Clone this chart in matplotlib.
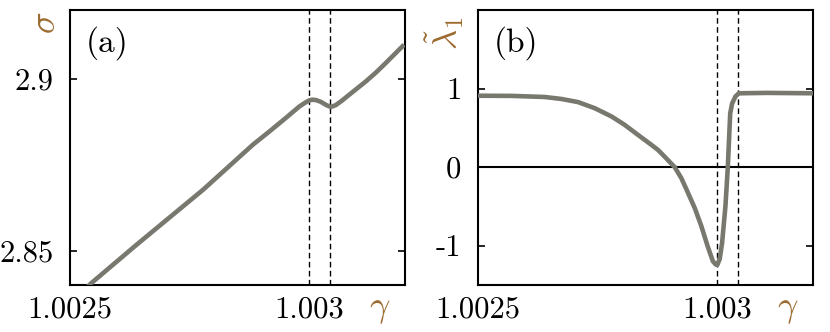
import numpy as np
import matplotlib
matplotlib.use("Agg")
import matplotlib.pyplot as plt

plt.rcParams['font.family'] = 'serif'
plt.rcParams['font.serif'] = ['cmr10', 'DejaVu Serif']
plt.rcParams['mathtext.fontset'] = 'cm'
plt.rcParams['axes.unicode_minus'] = False

# panel (a): sigma vs gamma
gamma_a = [1.00253, 1.002545, 1.002639, 1.002778, 1.002882, 1.002917, 1.002951,
           1.002979, 1.002992, 1.003, 1.003006, 1.003014, 1.003024, 1.003036,
           1.003045, 1.003055, 1.003068, 1.003083, 1.003100, 1.003118,
           1.003140, 1.00316, 1.003198]
sigma_a = [2.8385, 2.8406, 2.8517, 2.8677, 2.8808, 2.8847, 2.8886,
           2.8919, 2.8931, 2.8937, 2.8939, 2.8938, 2.8933, 2.8923,
           2.8918, 2.8923, 2.8936, 2.8953, 2.8972, 2.8992,
           2.9019, 2.9046, 2.9099]

# panel (b): lambda_1 tilde vs gamma
gamma_b = [1.0025, 1.00257, 1.002639, 1.002674, 1.002709, 1.002744, 1.002779,
           1.002806, 1.002834, 1.002862, 1.002876, 1.002889, 1.0029, 1.002911,
           1.002925, 1.002939, 1.002953, 1.002967, 1.00298, 1.002991,
           1.002997, 1.003, 1.003005, 1.00301, 1.003017, 1.003022, 1.003027,
           1.003031, 1.003038, 1.003045, 1.003104, 1.0032]
lam_b = [0.909, 0.907, 0.893, 0.868, 0.828, 0.750, 0.645,
         0.540, 0.412, 0.285, 0.220, 0.140, 0.07, 0.0,
         -0.141, -0.33, -0.522, -0.756, -1.01, -1.20,
         -1.24, -1.245, -1.17, -0.967, -0.50, 0.0, 0.685,
         0.81, 0.90, 0.94, 0.945, 0.94]

gamma_marks = [1.003, 1.003044]
xticks = [1.0025, 1.003]
xticklabels = ['1.0025', '1.003']
yticks_a = [2.85, 2.9]
yticklabels_a = ['2.85', '2.9']
yticks_b = [-1, 0, 1]
yticklabels_b = ['-1', '0', '1']

line_col = '#78786f'
lab_col = '#9b6b2f'

fig = plt.figure(figsize=(8.3, 3.32), dpi=100)
ax1 = fig.add_axes([70/830, 47/332, 335/830, 275/332])
ax2 = fig.add_axes([478/830, 47/332, 335/830, 275/332])

for ax in (ax1, ax2):
    for g in gamma_marks:
        ax.axvline(g, color='black', lw=1.0, ls=(0, (4, 2.5)), zorder=1)
    ax.set_xlim(1.0025, 1.0032)
    ax.set_xticks(xticks)
    ax.set_xticklabels(xticklabels)
    ax.tick_params(axis='x', length=0, pad=8, labelsize=22)
    ax.tick_params(axis='y', direction='in', length=5, width=1.2,
                   left=True, right=True, pad=12, labelsize=22)
    for s in ax.spines.values():
        s.set_linewidth(1.5)
    ax.text(0.925, -0.09, r'$\gamma$', color=lab_col, fontsize=26,
            transform=ax.transAxes, ha='center', va='center')

ax1.plot(gamma_a, sigma_a, color=line_col, lw=3.3, zorder=3,
         solid_capstyle='butt', solid_joinstyle='round')
ax1.set_ylim(2.84, 2.92)
ax1.set_yticks(yticks_a)
ax1.set_yticklabels(yticklabels_a)
ax1.text(-0.072, 0.953, r'$\sigma$', color=lab_col, fontsize=26, rotation=90,
         transform=ax1.transAxes, ha='center', va='center')
ax1.text(0.112, 0.88, '(a)', fontsize=24, transform=ax1.transAxes,
         ha='center', va='center')

ax2.axhline(0, color='black', lw=1.5, zorder=2)
ax2.plot(gamma_b, lam_b, color=line_col, lw=3.3, zorder=3,
         solid_capstyle='butt', solid_joinstyle='round')
ax2.set_ylim(-1.5, 2.0)
ax2.set_yticks(yticks_b)
ax2.set_yticklabels(yticklabels_b)
ax2.text(-0.1, 0.915, r'$\tilde{\lambda}_1$', color=lab_col, fontsize=25,
         rotation=90, transform=ax2.transAxes, ha='center', va='center')
ax2.text(0.112, 0.88, '(b)', fontsize=24, transform=ax2.transAxes,
         ha='center', va='center')

fig.savefig('out.png', dpi=100)
